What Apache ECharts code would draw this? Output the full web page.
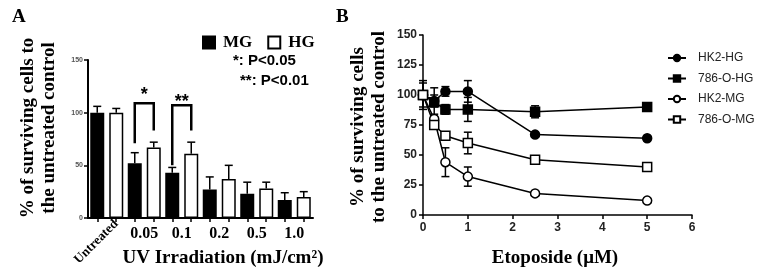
<!DOCTYPE html>
<html><head><meta charset="utf-8">
<script src="https://cdn.jsdelivr.net/npm/echarts@6/dist/echarts.min.js"></script>
<style>html,body{margin:0;padding:0;background:#fff}#c{width:771px;height:275px}</style>
</head><body><div id="c"></div>
<script>
// ---------- Panel A data ----------
const uvCategories = ['Untreated', '0.05', '0.1', '0.2', '0.5', '1.0'];
const mgValues = [100, 52, 43, 27, 23, 17];
const mgErrors = [6, 10, 5, 12, 11, 7];
const hgValues = [100, 67, 61, 37, 28, 20];
const hgErrors = [4, 5, 11, 13, 6, 5];
const uvYTicks = [0, 50, 100, 150];
// significance brackets: [category index, left leg bottom, right leg bottom, bracket top, label value, label]
const sigBrackets = [[1, 71, 83, 109, 117, '*'], [2, 50, 83, 107, 110, '**']];
const pNotes = ['*: P<0.05', '**: P<0.01'];

// ---------- Panel B data ----------
const etoDose = [0, 0.25, 0.5, 1, 2.5, 5];
const etoXTicks = [0, 1, 2, 3, 4, 5, 6];
const etoYTicks = [0, 25, 50, 75, 100, 125, 150];
const hk2HG = [100, 95, 103, 103, 67, 64];
const hk2HGErr = [10, 5, 4, 9, 2, 2];
const o786HG = [100, 94, 88, 88, 86, 90];
const o786HGErr = [12, 12, 4, 10, 5, 2];
const hk2MG = [100, 80, 44, 32, 18, 12];
const hk2MGErr = [3, 4, 12, 8, 2, 2];
const o786MG = [100, 75, 66, 60, 46, 40];
const o786MGErr = [3, 3, 3, 9, 2, 2];
const lineNames = ['HK2-HG', '786-O-HG', 'HK2-MG', '786-O-MG'];

// ---------- build ----------
const chart = echarts.init(document.getElementById('c'), null, {renderer: 'canvas'});
const SERIF = '"Liberation Serif","Times New Roman",serif';
const SANS = '"Liberation Sans",Arial,sans-serif';
const BAR_W = 14, BAR_GAP = 5;
const half = (BAR_W + BAR_GAP) / 2;

const errA = [];
mgValues.forEach((v, i) => errA.push([i, v, mgErrors[i], -1]));
hgValues.forEach((v, i) => errA.push([i, v, hgErrors[i], 1]));

const errB = [];
[[hk2HG, hk2HGErr], [o786HG, o786HGErr], [hk2MG, hk2MGErr], [o786MG, o786MGErr]].forEach(([vals, errs]) => {
  vals.forEach((v, i) => errB.push([etoDose[i], v, errs[i]]));
});

const tickSlots = [];
uvCategories.forEach(c => { tickSlots.push(c + ' MG'); tickSlots.push(c + ' HG'); });

const symbolDefs = [
  {symbol: 'circle', fill: '#000'},
  {symbol: 'rect', fill: '#000'},
  {symbol: 'circle', fill: '#fff'},
  {symbol: 'rect', fill: '#fff'}
];
const lineData = [hk2HG, o786HG, hk2MG, o786MG];

const option = {
  animation: false,
  backgroundColor: '#fff',
  grid: [
    {left: 88, top: 60, width: 225, height: 158},
    {left: 423, top: 35, width: 269, height: 180}
  ],
  legend: [
    {
      data: ['MG', 'HG'], left: 197, top: 29, itemWidth: 12, itemHeight: 12, itemGap: 15,
      icon: 'rect',
      textStyle: {fontFamily: SERIF, fontWeight: 'bold', fontSize: 17, color: '#000', padding: [0, 0, 0, 3]}
    },
    {
      data: lineNames, orient: 'vertical', left: 662, top: 47, itemWidth: 18, itemHeight: 8, itemGap: 8.5,
      textStyle: {fontFamily: SANS, fontSize: 12, color: '#222', padding: [0, 0, 0, 7]}
    }
  ],
  xAxis: [
    {
      gridIndex: 0, type: 'category', data: uvCategories, position: 'bottom',
      axisLine: {lineStyle: {color: '#000', width: 2}},
      axisTick: {show: false},
      axisLabel: {
        formatter: (v) => v === 'Untreated' ? '' : v,
        fontFamily: SERIF, fontWeight: 'bold', fontSize: 16, color: '#000', margin: 8
      }
    },
    {
      gridIndex: 0, type: 'category', data: tickSlots, position: 'bottom',
      axisLine: {show: false},
      axisTick: {show: true, alignWithLabel: true, length: 4, lineStyle: {color: '#000', width: 1.5}},
      axisLabel: {
        interval: 0, rotate: 45, margin: 4,
        formatter: (v, i) => i === 1 ? uvCategories[0] : '',
        fontFamily: SERIF, fontWeight: 'bold', fontSize: 13, color: '#000'
      }
    },
    {
      gridIndex: 1, type: 'value', min: etoXTicks[0], max: etoXTicks[etoXTicks.length - 1], interval: 1,
      axisLine: {lineStyle: {color: '#000', width: 1.5}},
      axisTick: {show: true, length: 4, lineStyle: {color: '#000', width: 1.5}},
      axisLabel: {fontFamily: SANS, fontWeight: 'bold', fontSize: 12, color: '#222', margin: 7},
      splitLine: {show: false}
    }
  ],
  yAxis: [
    {
      gridIndex: 0, type: 'value', min: uvYTicks[0], max: uvYTicks[uvYTicks.length - 1], interval: 50,
      axisLine: {show: true, lineStyle: {color: '#000', width: 2}},
      axisTick: {show: true, length: 4, lineStyle: {color: '#000', width: 1.5}},
      axisLabel: {fontFamily: SANS, fontWeight: 'bold', fontSize: 7, color: '#555', margin: 5},
      splitLine: {show: false}
    },
    {
      gridIndex: 1, type: 'value', min: etoYTicks[0], max: etoYTicks[etoYTicks.length - 1], interval: 25,
      axisLine: {show: true, lineStyle: {color: '#000', width: 1.5}},
      axisTick: {show: true, length: 4, lineStyle: {color: '#000', width: 1.5}},
      axisLabel: {fontFamily: SANS, fontWeight: 'bold', fontSize: 12, color: '#222', margin: 6},
      splitLine: {show: false}
    }
  ],
  series: [
    {
      name: 'MG', type: 'bar', xAxisIndex: 0, yAxisIndex: 0, data: mgValues,
      barWidth: BAR_W, barGap: (BAR_GAP / BAR_W * 100) + '%',
      itemStyle: {color: '#000', borderColor: '#000', borderWidth: 1.5}
    },
    {
      name: 'HG', type: 'bar', xAxisIndex: 0, yAxisIndex: 0, data: hgValues,
      barWidth: BAR_W,
      itemStyle: {color: '#fff', borderColor: '#000', borderWidth: 1.5}
    },
    {
      type: 'custom', xAxisIndex: 0, yAxisIndex: 0, data: errA, z: 5,
      renderItem: (params, api) => {
        const side = api.value(3);
        const p0 = api.coord([api.value(0), api.value(1)]);
        const p1 = api.coord([api.value(0), api.value(1) + api.value(2)]);
        const x = p0[0] + side * half;
        return {
          type: 'group', children: [
            {type: 'line', shape: {x1: x, y1: p0[1], x2: x, y2: p1[1]}, style: {stroke: '#000', lineWidth: 1.5}},
            {type: 'line', shape: {x1: x - 4, y1: p1[1], x2: x + 4, y2: p1[1]}, style: {stroke: '#000', lineWidth: 1.5}}
          ]
        };
      }
    },
    {
      type: 'custom', xAxisIndex: 0, yAxisIndex: 0, data: sigBrackets, z: 6,
      renderItem: (params, api) => {
        const d = sigBrackets[params.dataIndex];
        const c = api.coord([d[0], d[3]]);
        const l = api.coord([d[0], d[1]]);
        const r = api.coord([d[0], d[2]]);
        const t = api.coord([d[0], d[4]]);
        const xl = c[0] - half, xr = c[0] + half;
        return {
          type: 'group', children: [
            {type: 'polyline', shape: {points: [[xl, l[1]], [xl, c[1]], [xr, c[1]], [xr, r[1]]]},
              style: {stroke: '#000', lineWidth: 2.5, fill: null}},
            {type: 'text', style: {text: d[5], x: c[0], y: t[1], textAlign: 'center', textVerticalAlign: 'middle',
              font: 'bold 18px ' + SANS, fill: '#000'}}
          ]
        };
      }
    },
    {
      type: 'custom', xAxisIndex: 2, yAxisIndex: 1, data: errB, z: 1,
      renderItem: (params, api) => {
        const lo = api.coord([api.value(0), api.value(1) - api.value(2)]);
        const hi = api.coord([api.value(0), api.value(1) + api.value(2)]);
        const x = lo[0];
        return {
          type: 'group', children: [
            {type: 'line', shape: {x1: x, y1: lo[1], x2: x, y2: hi[1]}, style: {stroke: '#000', lineWidth: 1.5}},
            {type: 'line', shape: {x1: x - 4, y1: lo[1], x2: x + 4, y2: lo[1]}, style: {stroke: '#000', lineWidth: 1.5}},
            {type: 'line', shape: {x1: x - 4, y1: hi[1], x2: x + 4, y2: hi[1]}, style: {stroke: '#000', lineWidth: 1.5}}
          ]
        };
      }
    }
  ].concat(lineNames.map((name, k) => ({
    name, type: 'line', xAxisIndex: 2, yAxisIndex: 1, z: 3,
    data: etoDose.map((x, i) => [x, lineData[k][i]]),
    symbol: symbolDefs[k].symbol, symbolSize: 9, showAllSymbol: true,
    lineStyle: {color: '#000', width: 1.5},
    itemStyle: {color: symbolDefs[k].fill, borderColor: '#000', borderWidth: 1.5}
  }))),
  graphic: [
    {type: 'text', left: 12, top: 8, style: {text: 'A', font: 'bold 19px ' + SERIF, fill: '#000'}},
    {type: 'text', left: 336, top: 8, style: {text: 'B', font: 'bold 19px ' + SERIF, fill: '#000'}},
    {type: 'text', x: 39, y: 128, rotation: Math.PI / 2,
      style: {text: '% of surviving cells to\nthe untreated control', textAlign: 'center', textVerticalAlign: 'middle',
        font: 'bold 19px ' + SERIF, lineHeight: 21, fill: '#000'}},
    {type: 'text', x: 369, y: 127, rotation: Math.PI / 2,
      style: {text: '% of surviving cells\nto the untreated control', textAlign: 'center', textVerticalAlign: 'middle',
        font: 'bold 19px ' + SERIF, lineHeight: 21, fill: '#000'}},
    {type: 'text', x: 223, y: 258,
      style: {text: 'UV Irradiation (mJ/cm²)', textAlign: 'center', textVerticalAlign: 'middle',
        font: 'bold 19px ' + SERIF, fill: '#000'}},
    {type: 'text', x: 555, y: 258,
      style: {text: 'Etoposide (μM)', textAlign: 'center', textVerticalAlign: 'middle',
        font: 'bold 19px ' + SERIF, fill: '#000'}},
    {type: 'text', x: 233, y: 61,
      style: {text: pNotes[0], textAlign: 'left', textVerticalAlign: 'middle', font: 'bold 15px ' + SANS, fill: '#000'}},
    {type: 'text', x: 240, y: 81,
      style: {text: pNotes[1], textAlign: 'left', textVerticalAlign: 'middle', font: 'bold 15px ' + SANS, fill: '#000'}}
  ]
};
chart.setOption(option);
</script>
</body></html>
